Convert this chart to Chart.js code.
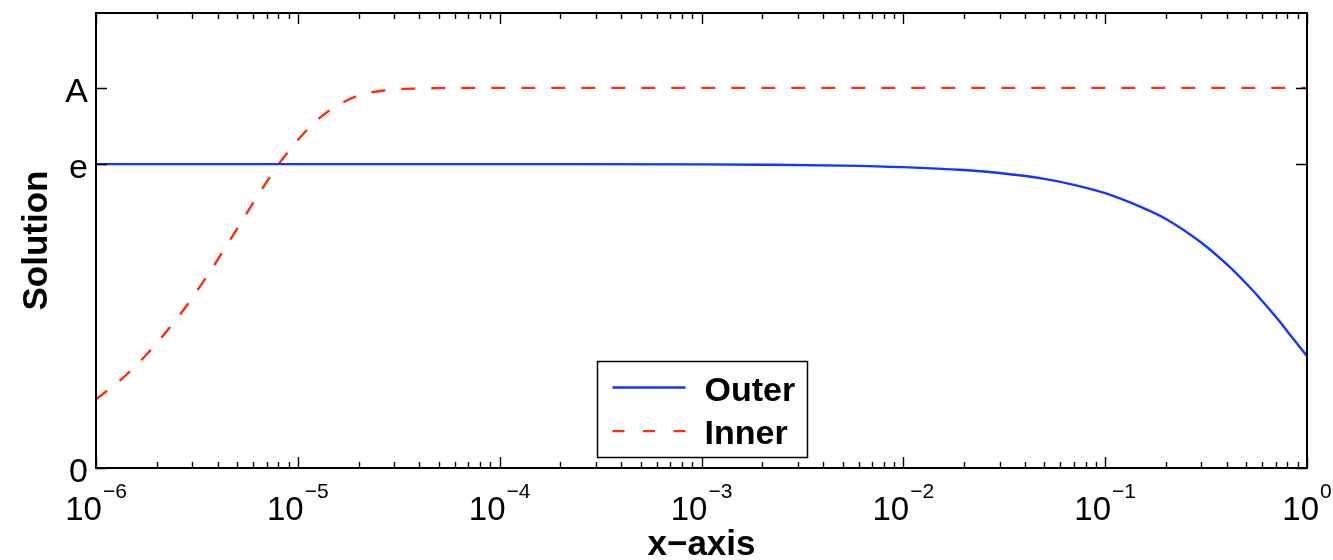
<!DOCTYPE html>
<html>
<head>
<meta charset="utf-8">
<script src="https://cdn.jsdelivr.net/npm/chart.js@4.4.1/dist/chart.umd.min.js"></script>
<style>
  html, body { margin: 0; padding: 0; background: #fff; }
  #wrap { width: 1333px; height: 560px; position: relative; }
</style>
</head>
<body>
<div id="wrap"><canvas id="c" width="1333" height="560"></canvas></div>
<script>
// Special levels on the vertical axis
const E_LEVEL = 2.71828;
const A_LEVEL = 3.4;

// Outer solution
const outerX = [1e-6, 1e-5, 1e-4, 1e-3, 0.002, 0.005, 0.01, 0.02, 0.03, 0.05, 0.07, 0.1, 0.15, 0.2, 0.3, 0.4, 0.5, 0.6, 0.7, 0.8, 0.9, 1];
const outerY = [2.718, 2.718, 2.718, 2.716, 2.713, 2.705, 2.691, 2.665, 2.639, 2.586, 2.533, 2.458, 2.335, 2.228, 2.015, 1.823, 1.650, 1.494, 1.352, 1.222, 1.105, 1.0];

// Inner solution
const innerX = [1e-6, 1.2e-6, 1.4e-6, 1.6e-6, 1.8e-6, 2e-6, 2.5e-6, 3e-6, 3.5e-6, 4e-6, 5e-6, 6e-6, 7e-6, 8e-6, 9e-6,
                1e-5, 1.2e-5, 1.4e-5, 1.7e-5, 2e-5, 2.5e-5, 3e-5, 4e-5, 5e-5, 1e-4, 1e-3, 1e-2, 0.1, 1];
const innerY = [0.615, 0.725, 0.826, 0.927, 1.024, 1.118, 1.329, 1.524, 1.701, 1.862, 2.140, 2.370, 2.558, 2.713, 2.835,
                2.934, 3.085, 3.185, 3.276, 3.332, 3.370, 3.387, 3.395, 3.398, 3.4, 3.4, 3.4, 3.4, 3.4];

// Axis ticks
const xExponents = [-6, -5, -4, -3, -2, -1, 0];
const yTickValues = [0, E_LEVEL, A_LEVEL];
const yTickLabels = ['0', 'e', 'A'];

const seriesNames = ['Outer', 'Inner'];
const xTitle = 'x\u2212axis';
const yTitle = 'Solution';

const FONT = '"Liberation Sans", Arial, Helvetica, sans-serif';
const BLUE = '#1236ff';
const RED = '#ff2e0a';

const toPoints = (xs, ys) => xs.map((x, i) => ({ x, y: ys[i] }));

// Box, inward tick marks, tick labels and axis titles in the classic boxed style
const boxedAxes = {
  id: 'boxedAxes',
  afterDatasetsDraw(chart) {
    const { ctx, chartArea: ca, scales } = chart;
    const xs = scales.x, ys = scales.y;
    ctx.save();
    ctx.strokeStyle = '#000';
    ctx.fillStyle = '#000';

    // x ticks (major decades + minor 2..9), top and bottom
    ctx.lineWidth = 1.4;
    ctx.beginPath();
    xExponents.forEach((p, i) => {
      const base = Math.pow(10, p);
      const px = Math.round(xs.getPixelForValue(base)) + 0.5;
      ctx.moveTo(px, ca.bottom); ctx.lineTo(px, ca.bottom - 11);
      ctx.moveTo(px, ca.top); ctx.lineTo(px, ca.top + 11);
      if (i < xExponents.length - 1) {
        for (let m = 2; m <= 9; m++) {
          const mx = Math.round(xs.getPixelForValue(m * base)) + 0.5;
          ctx.moveTo(mx, ca.bottom); ctx.lineTo(mx, ca.bottom - 6);
          ctx.moveTo(mx, ca.top); ctx.lineTo(mx, ca.top + 6);
        }
      }
    });
    // y ticks, left and right
    yTickValues.forEach(v => {
      const py = Math.round(ys.getPixelForValue(v)) + 0.5;
      ctx.moveTo(ca.left, py); ctx.lineTo(ca.left + 11, py);
      ctx.moveTo(ca.right, py); ctx.lineTo(ca.right - 11, py);
    });
    ctx.stroke();

    // frame
    ctx.lineWidth = 2;
    ctx.strokeRect(ca.left, ca.top, ca.right - ca.left, ca.bottom - ca.top);

    // y tick labels
    ctx.font = '34px ' + FONT;
    ctx.textAlign = 'right';
    ctx.textBaseline = 'alphabetic';
    yTickValues.forEach((v, i) => {
      const py = ys.getPixelForValue(v);
      ctx.fillText(yTickLabels[i], ca.left - 8, py + 14);
    });

    // x tick labels: 10 with a raised exponent
    ctx.textAlign = 'left';
    xExponents.forEach(p => {
      const px = xs.getPixelForValue(Math.pow(10, p));
      const sup = p < 0 ? '\u2212' + Math.abs(p) : String(p);
      ctx.font = '33px ' + FONT;
      const w1 = ctx.measureText('10').width;
      ctx.font = '21px ' + FONT;
      const w2 = ctx.measureText(sup).width;
      const start = px - (w1 + 1 + w2) / 2;
      ctx.font = '33px ' + FONT;
      ctx.fillText('10', start, ca.bottom + 52);
      ctx.font = '21px ' + FONT;
      ctx.fillText(sup, start + w1 + 1, ca.bottom + 30);
    });

    // axis titles
    ctx.font = 'bold 35px ' + FONT;
    ctx.textAlign = 'center';
    ctx.fillText(xTitle, (ca.left + ca.right) / 2, ca.bottom + 87);
    ctx.save();
    ctx.translate(47, (ca.top + ca.bottom) / 2);
    ctx.rotate(-Math.PI / 2);
    ctx.fillText(yTitle, 0, 0);
    ctx.restore();

    // legend box, anchored at the bottom centre of the plot
    const lw = 210, lh = 96;
    const lx = Math.round((ca.left + ca.right) / 2 - lw / 2) + 0.5;
    const ly = Math.round(ca.bottom - 11 - lh) + 0.5;
    ctx.fillStyle = '#fff';
    ctx.fillRect(lx, ly, lw, lh);
    ctx.lineWidth = 1.5;
    ctx.strokeStyle = '#000';
    ctx.strokeRect(lx, ly, lw, lh);
    chart.data.datasets.forEach((ds, i) => {
      const rowY = ly + 26 + i * 43.6;
      ctx.beginPath();
      ctx.strokeStyle = ds.borderColor;
      ctx.lineWidth = 2.4;
      ctx.setLineDash(ds.borderDash && ds.borderDash.length ? [12, 18.5] : []);
      ctx.moveTo(lx + 15, rowY);
      ctx.lineTo(lx + 88, rowY);
      ctx.stroke();
      ctx.setLineDash([]);
      ctx.fillStyle = '#000';
      ctx.font = 'bold 34px ' + FONT;
      ctx.textAlign = 'left';
      ctx.fillText(ds.label, lx + 107, rowY + 13);
    });
    ctx.restore();
  }
};

new Chart(document.getElementById('c'), {
  type: 'line',
  data: {
    datasets: [
      {
        label: seriesNames[0],
        data: toPoints(outerX, outerY),
        borderColor: BLUE,
        borderWidth: 2.4,
        pointRadius: 0,
        fill: false,
        cubicInterpolationMode: 'monotone'
      },
      {
        label: seriesNames[1],
        data: toPoints(innerX, innerY),
        borderColor: RED,
        borderWidth: 2.4,
        borderDash: [14, 16],
        pointRadius: 0,
        fill: false,
        cubicInterpolationMode: 'monotone'
      }
    ]
  },
  options: {
    responsive: false,
    animation: false,
    devicePixelRatio: 1,
    layout: { padding: { top: 13, right: 26, bottom: 0, left: 0 } },
    plugins: { legend: { display: false }, tooltip: { enabled: false } },
    scales: {
      x: {
        type: 'logarithmic',
        min: 1e-6,
        max: 1,
        grid: { display: false },
        border: { display: false },
        ticks: { display: false },
        afterFit(scale) { scale.height = 92; }
      },
      y: {
        type: 'linear',
        min: 0,
        max: 4.07,
        grid: { display: false },
        border: { display: false },
        ticks: { display: false },
        afterFit(scale) { scale.width = 96; }
      }
    }
  },
  plugins: [boxedAxes]
});
</script>
</body>
</html>
